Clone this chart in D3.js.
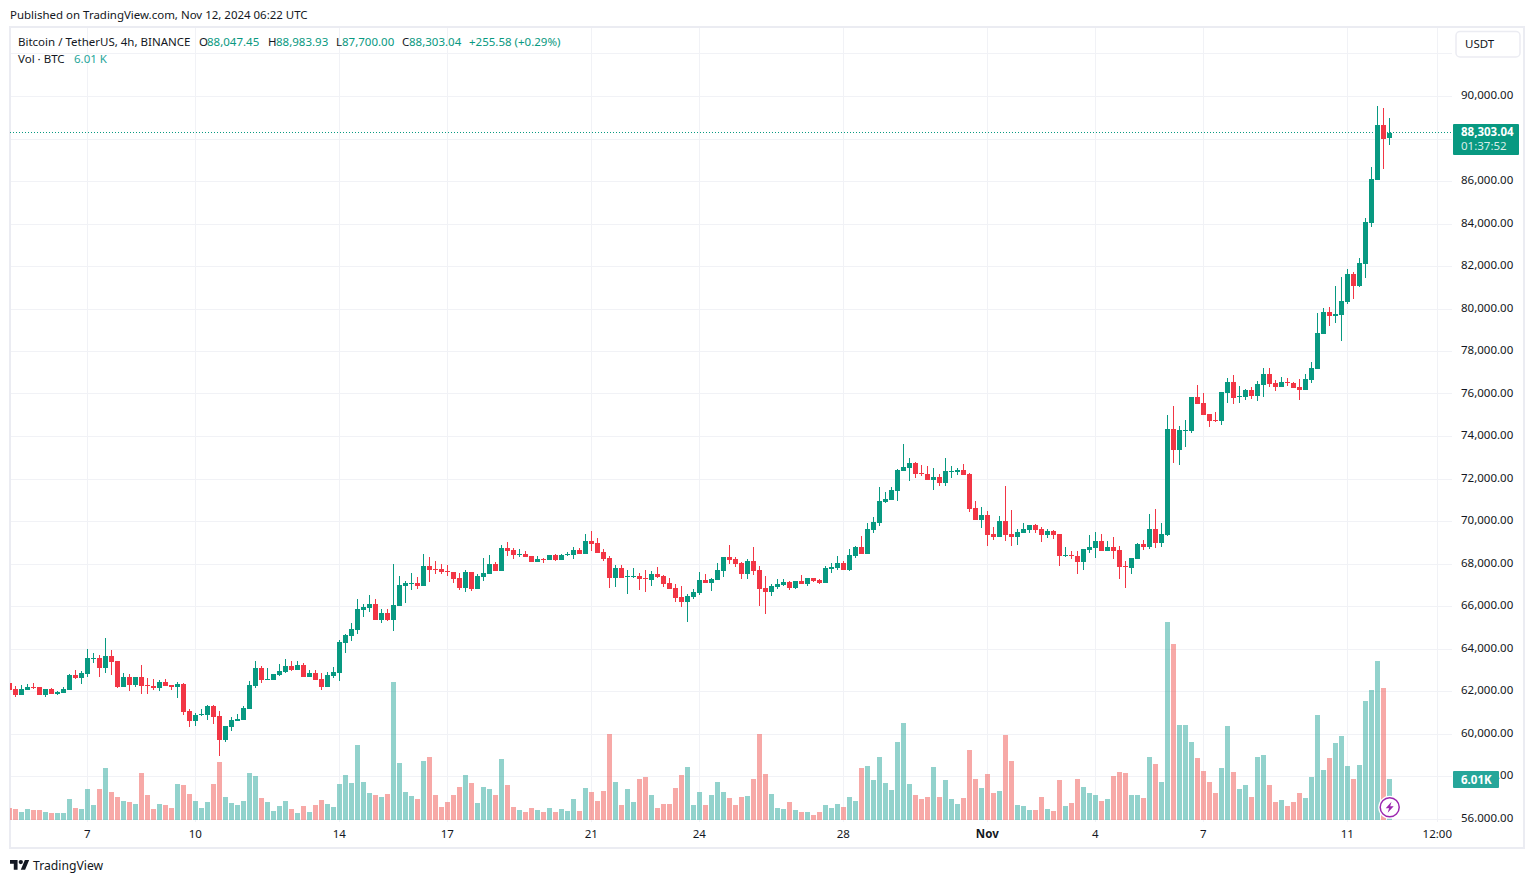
<!DOCTYPE html>
<html><head><meta charset="utf-8">
<script src="https://cdn.jsdelivr.net/npm/d3@7"></script>
<style>html,body{margin:0;padding:0;background:#fff;overflow:hidden}svg{display:block}text{font-family:"Noto Sans",sans-serif;font-size:11.5px;fill:#131722}</style>
</head><body><svg id="c" width="1534" height="883"></svg>
<script>
const firstBar = "2024-10-04T20:00:00Z", lastBar = "2024-11-12T04:00:00Z";
const opens = [62388,62106,61823,62059,62200,62200,61823,62106,61870,61917,
62059,62765,62623,62812,63518,63565,63094,63659,63423,62200,
62670,62294,62670,62294,62247,62153,62435,62294,62200,62341,
61070,60599,60882,60882,61305,60835,59705,60317,60599,60646,
61164,62247,63094,62529,62529,62765,62906,63188,63000,63235,
62670,62859,62576,62200,62718,62859,64273,64603,64885,65826,
65920,66108,65355,65685,65355,66014,66955,67049,67096,66955,
67896,67754,67754,67660,67613,67331,66861,67613,66813,67378,
67519,67990,67660,68743,68649,68414,68461,68367,68084,68225,
68178,68414,68178,68414,68414,68649,68461,69072,68978,68555,
68273,67331,67801,67378,67378,67425,67331,67237,67520,67425,
67096,66861,66437,66202,66437,66625,67237,67096,67237,67661,
68319,68225,68037,67520,68131,67708,66861,66672,66908,67002,
67143,66861,67190,67049,67331,67237,67096,67755,67802,68037,
67708,68366,68790,68460,69589,69918,70907,71001,71425,72366,
72507,72742,72272,72225,71942,72084,71801,72319,72319,72413,
72225,70625,70060,70295,69402,69261,70013,69402,69261,69449,
69590,69825,69637,69355,69543,69402,68367,68414,68367,68084,
68649,68744,69073,68602,68791,68649,67896,67802,68226,68932,
68791,69637,68979,69355,74344,73355,74250,74250,75849,75567,
75049,74767,74720,76038,76555,75849,75849,76179,75896,76414,
76932,76508,76320,76555,76508,76320,76179,76646,77164,78811,
79846,79658,79705,80317,81635,81070,82106,84036,86060,88649,
88047.45];
const highs = [62388,62247,62294,62341,62388,62200,62106,62153,62012,62200,
62812,63000,62953,63988,63800,63706,64506,63941,63423,62859,
62812,62670,63235,62623,62576,62529,62576,62294,62435,62388,
61164,60976,61164,61352,61352,61070,60364,60788,60929,61305,
62482,63423,63188,63094,62812,63282,63518,63423,63423,63329,
63000,63000,62859,62906,63141,64412,64697,65214,66343,66108,
66531,66343,65873,65873,67990,67425,67190,67566,67378,68461,
68320,68131,67990,67943,67613,67566,67707,67613,67519,68273,
68414,68084,68884,69025,68743,68696,68602,68367,68367,68273,
68414,68461,68461,68555,68790,68743,69402,69543,69214,68696,
68367,67943,67943,67707,67801,67566,67707,67660,67849,67472,
67331,67049,66955,66578,66814,67614,67520,67331,68037,68319,
68884,68319,68084,68225,68790,67896,67425,67049,67284,67284,
67190,67190,67472,67331,67331,67284,67896,68037,68366,68131,
68696,68837,69307,69918,70201,71613,71378,71613,72460,73637,
72978,72789,72648,72601,72507,72225,72978,72601,72507,72695,
72272,70954,70672,70484,69731,70248,71660,70531,69637,69919,
69825,69872,69731,69637,69590,69402,68791,68602,68602,68696,
69355,69496,69402,69073,69261,68838,68131,68273,68979,69120,
70342,70578,69919,75002,75425,74485,74767,75849,76414,76038,
75049,75143,76085,76744,76885,76367,76226,76320,76602,77214,
77214,76650,76791,76744,76555,76697,76932,77493,79800,80035,
80082,81070,81494,81871,81729,82388,84271,86672,89543,89449,
88983.93];
const lows = [62059,61729,61823,62059,62106,61823,61729,61870,61823,61917,
62059,62576,62341,62670,63329,62670,62859,62765,62153,62200,
62012,62200,61870,61870,62059,62012,62247,62059,61682,60882,
60317,60364,60835,60646,60458,58952,59611,60129,60599,60646,
61164,62153,62388,62529,62529,62718,62859,62953,63000,62670,
62670,62529,62059,62200,62623,62482,63803,64367,64697,65496,
65732,65355,65214,65308,64838,66014,66155,66766,66813,66955,
67143,67519,67519,67425,67096,66766,66672,66719,66813,67190,
67519,67660,67660,68367,68225,68320,68320,68084,68084,68037,
68178,68131,68178,68367,68225,68461,68461,68602,68508,68131,
66861,66908,67331,66578,67331,66766,66672,66955,67331,66908,
66814,66202,65966,65259,66343,66531,67096,66720,67237,67378,
67990,67849,67284,67284,67472,66013,65636,66484,66814,66955,
66767,66814,67049,66955,67143,67049,67096,67567,67708,67708,
67661,68272,68460,68460,69448,69777,70860,71001,70954,72366,
71895,72037,72131,71942,71472,71660,71660,72037,72178,72178,
70436,70060,69684,68838,69120,69261,69073,68838,68885,69449,
69449,69449,69026,69214,69167,67896,68320,68226,67520,67708,
68508,68273,68602,68602,68226,67285,66860,67520,68226,68649,
68696,68744,68791,69308,72743,72649,73496,74155,75520,75002,
74438,74673,74532,75567,75520,75567,75708,75755,75661,75849,
76320,76132,76320,76367,76273,75708,76179,76505,77164,78811,
79187,79329,78481,80223,80458,81023,81447,83847,86060,86577,
87700];
const closes = [62059,61823,62106,62200,62153,61823,62106,61870,61965,62106,
62765,62623,62859,63565,63565,63094,63659,63376,62200,62670,
62294,62670,62247,62247,62153,62435,62247,62200,62341,61023,
60599,60882,60929,61305,60788,59705,60364,60646,60693,61211,
62294,63094,62529,62576,62812,62953,63188,63000,63235,62670,
62859,62529,62200,62765,62906,64318,64650,64932,65873,65967,
66108,65355,65685,65355,66061,67002,67096,67096,66955,67896,
67707,67707,67613,67613,67284,66861,67613,66813,67425,67566,
67990,67660,68743,68602,68414,68461,68320,68084,68225,68178,
68414,68178,68414,68461,68649,68461,69072,68931,68508,68225,
67331,67801,67331,67425,67425,67284,67284,67519,67378,67049,
66814,66390,66202,66484,66672,67237,67096,67284,67708,68319,
68178,67990,67520,68131,67661,66814,66672,66955,67049,67143,
66861,67190,67049,67331,67190,67096,67802,67849,68037,67708,
68413,68790,68460,69636,69965,70954,71048,71472,72413,72554,
72742,72225,72225,71942,72084,71801,72366,72366,72413,72178,
70577,70060,70295,69355,69261,70013,69355,69261,69496,69637,
69825,69590,69355,69543,69355,68367,68414,68367,68084,68696,
68791,69073,68602,68791,68602,67849,67849,68273,68932,68791,
69637,68979,69402,74344,73355,74297,74297,75849,75520,75002,
74720,74720,76085,76555,75802,75896,76179,75896,76461,76932,
76461,76320,76555,76508,76273,76179,76697,77211,78858,79846,
79658,79752,80364,81635,81070,82153,84083,86107,88649,87990,
88303.04];
// volume, thousands of BTC per 4h bar
const volumes = [1.76,1.61,1.17,1.61,1.47,1.47,1.17,1.03,1.03,1.03,
3.08,1.76,1.61,4.55,2.20,4.55,7.62,4.11,3.37,2.79,
2.64,2.35,6.89,3.67,1.61,2.35,2.20,1.76,5.28,5.13,
3.81,2.79,1.76,2.64,5.28,8.50,3.37,2.49,2.20,2.79,
6.89,6.45,3.23,2.64,1.32,2.05,2.79,1.61,1.03,2.05,
1.17,2.20,2.93,2.35,1.91,5.28,6.60,5.43,11.00,5.57,
3.96,3.67,3.37,3.81,20.23,8.36,4.11,3.52,3.08,8.65,
9.24,3.67,1.91,2.64,3.67,4.84,6.60,5.43,2.49,4.84,
4.55,3.67,8.94,5.13,1.91,1.47,1.17,1.76,1.47,1.17,
1.76,1.17,1.61,1.32,3.08,1.32,4.69,4.11,2.79,4.25,
12.61,5.57,2.20,4.55,2.64,6.01,6.30,3.67,1.76,2.35,
2.35,4.69,6.60,7.77,2.20,4.11,2.20,3.67,5.57,4.11,
3.23,2.20,3.37,3.52,6.01,12.61,6.74,3.81,1.76,1.61,
2.64,1.47,1.17,1.17,0.73,1.17,2.20,1.76,2.35,1.91,
3.37,2.79,7.62,7.92,5.87,9.24,5.43,4.40,11.44,14.22,
5.28,3.67,3.08,3.37,7.77,3.37,5.87,3.08,2.35,3.23,
10.26,6.01,4.69,6.74,3.96,4.25,12.46,8.65,2.20,2.05,
1.47,1.47,3.37,1.61,1.32,5.87,2.05,2.49,6.01,4.84,
3.96,3.67,2.79,3.08,6.45,7.04,6.89,3.67,3.67,3.23,
9.24,8.21,5.57,29.03,25.81,13.93,13.93,11.44,9.09,7.18,
5.57,3.96,7.62,13.78,7.04,4.55,5.13,3.37,9.24,9.53,
5.13,2.64,2.93,2.05,2.64,3.96,3.23,6.30,15.40,7.33,
9.09,11.29,12.32,7.92,6.01,8.06,17.45,19.06,23.31,19.35,
6.01];
const priceTicks = [56000,58000,60000,62000,64000,66000,68000,70000,72000,74000,76000,78000,80000,82000,84000,86000,88000,90000,92000];
const priceLabels = [56000,58000,60000,62000,64000,66000,68000,70000,72000,74000,76000,78000,80000,82000,84000,86000,90000];
const timeTicks = ["2024-10-07T00:00:00Z","2024-10-10T00:00:00Z","2024-10-14T00:00:00Z","2024-10-17T00:00:00Z","2024-10-21T00:00:00Z","2024-10-24T00:00:00Z","2024-10-28T00:00:00Z","2024-11-01T00:00:00Z","2024-11-04T00:00:00Z","2024-11-07T00:00:00Z","2024-11-11T00:00:00Z","2024-11-13T12:00:00Z"];
const timeLabels = ["7","10","14","17","21","24","28","Nov","4","7","11","12:00"];
const lastPrice = 88303.04, lastVolume = 6.01;
const legendTitle = "Bitcoin / TetherUS, 4h, BINANCE";
const legendOHLC = [["O","88,047.45"],["H","88,983.93"],["L","87,700.00"],["C","88,303.04"]];
const legendChange = "+255.58 (+0.29%)";

const UP="#089981", DOWN="#f23645", VUP="#26a69a", VDOWN="#ef5350", GRID="#f1f2f6", FRAME="#ebecf2", INK="#131722";
const svg = d3.select("#c");
const L=10,T=27,R=1524,B=848,AX=1453,PB=822;
const parse = s=>new Date(s);
const times = opens.map((_,i)=>d3.utcHour.offset(parse(firstBar),4*i));
const x = d3.scaleUtc().domain([parse(firstBar),parse(lastBar)]).range([9.5,1389.5]);
const y = d3.scaleLinear().domain([56000,90000]).range([819,96.5]);
const yv = d3.scaleLinear().domain([0,volumes[193]]).range([820,622]);

const defs = svg.append("defs");
defs.append("clipPath").attr("id","plot").append("rect").attr("x",L).attr("y",T).attr("width",AX-L).attr("height",PB-T);
defs.append("clipPath").attr("id","axis").append("rect").attr("x",AX).attr("y",T).attr("width",R-AX-1).attr("height",PB-T);

// header
svg.append("text").attr("x",10).attr("y",19).style("font-size","11.47px").text("Published on TradingView.com, Nov 12, 2024 06:22 UTC");

// grid
const grid = svg.append("g").attr("clip-path","url(#plot)").attr("shape-rendering","crispEdges");
grid.selectAll("line.h").data(priceTicks).join("line").attr("class","h")
  .attr("x1",L).attr("x2",AX-1).attr("y1",d=>Math.floor(y(d))+.5).attr("y2",d=>Math.floor(y(d))+.5).attr("stroke",GRID);
grid.selectAll("line.v").data(timeTicks).join("line").attr("class","v")
  .attr("x1",d=>x(parse(d))).attr("x2",d=>x(parse(d))).attr("y1",T).attr("y2",PB).attr("stroke",GRID);

// frame
svg.append("rect").attr("x",L).attr("y",T).attr("width",R-L).attr("height",B-T).attr("fill","none").attr("stroke",FRAME).attr("stroke-width",2);

// volume
const plot = svg.append("g").attr("clip-path","url(#plot)").attr("shape-rendering","crispEdges");
plot.append("g").selectAll("rect").data(volumes).join("rect")
  .attr("x",(d,i)=>x(times[i])-2.5).attr("width",5)
  .attr("y",d=>Math.round(yv(d))).attr("height",d=>820-Math.round(yv(d)))
  .attr("fill",(d,i)=>closes[i]>=opens[i]?VUP:VDOWN).attr("fill-opacity",.5);

// last-price line
plot.append("line").attr("x1",L).attr("x2",AX).attr("y1",Math.floor(y(lastPrice))+.5).attr("y2",Math.floor(y(lastPrice))+.5)
  .attr("stroke",UP).attr("stroke-dasharray","1 2").attr("shape-rendering","auto");

// candles
const col=i=>closes[i]>=opens[i]?UP:DOWN;
plot.append("g").selectAll("rect").data(opens).join("rect")
  .attr("x",(d,i)=>x(times[i])-.5).attr("width",1)
  .attr("y",(d,i)=>Math.round(y(highs[i]))).attr("height",(d,i)=>Math.max(1,Math.round(y(lows[i]))-Math.round(y(highs[i]))))
  .attr("fill",(d,i)=>col(i));
plot.append("g").selectAll("rect").data(opens).join("rect")
  .attr("x",(d,i)=>x(times[i])-2.5).attr("width",5)
  .attr("y",(d,i)=>Math.round(y(Math.max(d,closes[i]))))
  .attr("height",(d,i)=>Math.max(1,Math.round(y(Math.min(d,closes[i])))-Math.round(y(Math.max(d,closes[i])))))
  .attr("fill",(d,i)=>col(i));

// axes
const fmt = d3.format(",.2f");
const yAxis = svg.append("g").attr("clip-path","url(#axis)").append("g").attr("transform",`translate(${AX},0)`)
  .call(d3.axisRight(y).tickValues(priceLabels).tickFormat(fmt).tickSize(0).tickPadding(8));
yAxis.select(".domain").remove();
yAxis.selectAll("text").attr("dy","0.21em").style("font-family",'"Noto Sans",sans-serif').style("font-size","11.5px").attr("fill",INK);
const xAxis = svg.append("g").attr("transform",`translate(-0.7,${PB})`)
  .call(d3.axisBottom(x).tickValues(timeTicks.map(parse)).tickFormat((d,i)=>timeLabels[i]).tickSize(0).tickPadding(8));
xAxis.select(".domain").remove();
xAxis.selectAll("text").style("font-family",'"Noto Sans",sans-serif').style("font-size","11.5px").attr("fill",INK)
  .style("font-weight",(d,i)=>timeLabels[i]==="Nov"?"700":"400");

// legend
svg.append("text").attr("x",18).attr("y",45.5).text(legendTitle);
const lx=[199,268,336,402], vx=[207,276,342,409];
legendOHLC.forEach((e,i)=>{
  svg.append("text").attr("x",lx[i]).attr("y",45.5).text(e[0]);
  svg.append("text").attr("x",vx[i]).attr("y",45.5).style("fill",UP).text(e[1]);
});
svg.append("text").attr("x",469).attr("y",45.5).style("fill",UP).text(legendChange);
svg.append("text").attr("x",18).attr("y",62.5).text("Vol · BTC");
svg.append("text").attr("x",74).attr("y",62.5).style("fill",VUP).text(d3.format(".2f")(lastVolume)+" K");

// currency button
svg.append("rect").attr("x",1456).attr("y",31.5).attr("width",64).attr("height",25.5).attr("rx",4).attr("fill","#fff").attr("stroke",FRAME).attr("stroke-width",1.5);
svg.append("text").attr("x",1465).attr("y",48).text("USDT");

// last price tag
svg.append("rect").attr("x",AX).attr("y",124).attr("width",66).attr("height",31).attr("rx",1).attr("fill",UP);
svg.append("text").attr("x",1461).attr("y",136).style("fill","#fff").style("font-weight","700").text(fmt(lastPrice));
svg.append("text").attr("x",1461).attr("y",149.5).style("fill","#fff").style("fill-opacity",.85).text("01:37:52");

// volume tag
svg.append("rect").attr("x",AX).attr("y",771).attr("width",46).attr("height",17).attr("rx",1).attr("fill",VUP);
svg.append("text").attr("x",1461).attr("y",783.5).style("fill","#fff").style("font-weight","700").text(d3.format(".2f")(lastVolume)+"K");

// flash marker
const fl = svg.append("g").attr("transform","translate(1389.7,807.3)");
fl.append("circle").attr("r",11.5).attr("fill","#fff");
fl.append("circle").attr("r",9.5).attr("fill","#fff").attr("stroke","#9c27b0").attr("stroke-width",1.5);
fl.append("path").attr("d","M1.8,-5.5 L-4,1 L-0.6,1 L-2,5.5 L4,-1 L0.5,-1 Z").attr("fill","#9c27b0");

// footer logo
const lg = svg.append("g").attr("transform","translate(10,857.8) scale(.54)").attr("fill",INK);
lg.append("path").attr("d","M14 22H7V11H0V4h14v18zM28 22h-8l7.5-18h8L28 22z");
lg.append("circle").attr("cx",20).attr("cy",8).attr("r",4);
svg.append("text").attr("x",33).attr("y",870).style("font-size","12.2px").text("TradingView");
</script></body></html>
